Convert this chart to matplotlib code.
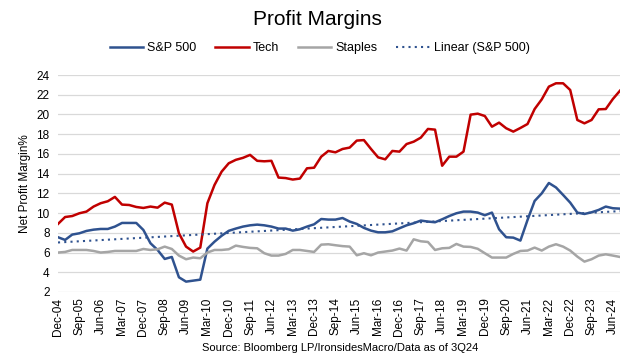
import numpy as np
import matplotlib.pyplot as plt

plt.rcParams['font.family'] = ['Liberation Sans', 'DejaVu Sans']

# quarterly net profit margins, Dec-04 .. Sep-24
sp500 = [7.55, 7.28, 7.82, 7.95, 8.19, 8.32, 8.39, 8.39, 8.63, 9.0,
         9.0, 9.0, 8.29, 6.94, 6.26, 5.35, 5.55, 3.49, 3.05, 3.15,
         3.25, 6.4, 7.1, 7.7, 8.2, 8.43, 8.63, 8.76, 8.83, 8.76,
         8.63, 8.43, 8.43, 8.22, 8.36, 8.63, 8.86, 9.4, 9.34, 9.34,
         9.5, 9.14, 8.9, 8.5, 8.22, 8.05, 8.05, 8.15, 8.46, 8.76,
         8.97, 9.24, 9.14, 9.07, 9.37, 9.7, 9.98, 10.15, 10.15, 10.05,
         9.78, 10.05, 8.36, 7.55, 7.51, 7.21, 9.3, 11.23, 12.0, 13.05,
         12.6, 11.84, 11.06, 10.05, 9.91, 10.08, 10.32, 10.66, 10.49, 10.45]

tech = [8.9, 9.6, 9.7, 9.98, 10.15, 10.66, 11.0, 11.2, 11.64, 10.86,
        10.82, 10.62, 10.52, 10.66, 10.55, 11.06, 10.86, 7.95, 6.6, 6.1,
        6.5, 11.0, 12.85, 14.2, 15.05, 15.4, 15.6, 15.9, 15.3, 15.25,
        15.3, 13.6, 13.55, 13.4, 13.5, 14.54, 14.6, 15.72, 16.3, 16.16,
        16.5, 16.64, 17.35, 17.4, 16.5, 15.65, 15.45, 16.3, 16.23, 17.0,
        17.24, 17.65, 18.53, 18.46, 14.8, 15.72, 15.72, 16.23, 19.98, 20.08,
        19.84, 18.76, 19.17, 18.6, 18.26, 18.63, 19.03, 20.55, 21.53, 22.82,
        23.16, 23.16, 22.48, 19.44, 19.1, 19.44, 20.52, 20.55, 21.57, 22.41]

staples = [6.0, 6.06, 6.26, 6.26, 6.26, 6.16, 6.0, 6.06, 6.16, 6.16,
           6.16, 6.16, 6.36, 6.26, 6.33, 6.6, 6.36, 5.69, 5.32, 5.49,
           5.42, 6.0, 6.26, 6.26, 6.33, 6.7, 6.57, 6.47, 6.43, 5.93,
           5.69, 5.69, 5.86, 6.26, 6.26, 6.16, 6.06, 6.8, 6.84, 6.74,
           6.65, 6.6, 5.72, 5.93, 5.72, 6.0, 6.1, 6.2, 6.4, 6.2,
           7.34, 7.14, 7.07, 6.26, 6.43, 6.47, 6.87, 6.6, 6.57, 6.38,
           5.93, 5.49, 5.49, 5.49, 5.86, 6.16, 6.2, 6.5, 6.2, 6.6,
           6.84, 6.6, 6.2, 5.59, 5.08, 5.32, 5.69, 5.82, 5.69, 5.55]

# excel linear trendline, start and end values
trend_ends = [7.02, 10.2]

tick_labels = ['Dec-04', 'Sep-05', 'Jun-06', 'Mar-07', 'Dec-07', 'Sep-08', 'Jun-09',
               'Mar-10', 'Dec-10', 'Sep-11', 'Jun-12', 'Mar-13', 'Dec-13', 'Sep-14',
               'Jun-15', 'Mar-16', 'Dec-16', 'Sep-17', 'Jun-18', 'Mar-19', 'Dec-19',
               'Sep-20', 'Jun-21', 'Mar-22', 'Dec-22', 'Sep-23', 'Jun-24']

blue = '#2F528F'
red = '#C00000'
grey = '#A5A5A5'

x = np.arange(len(sp500))

fig = plt.figure(figsize=(6.29, 3.58), dpi=100)
ax = fig.add_axes([0.0922, 0.1844, 0.8935, 0.6061])

ax.plot(x, sp500, color=blue, lw=1.8, label='S&P 500')
ax.plot(x, tech, color=red, lw=1.8, label='Tech')
ax.plot(x, staples, color=grey, lw=1.8, label='Staples')
ax.plot([x[0], x[-1]], trend_ends, color=blue, lw=1.5, ls=(0, (1, 2)),
        label='Linear (S&P 500)')

ax.set_xlim(0, len(x) - 1)
ax.set_ylim(2, 24)
ax.set_yticks(np.arange(2, 25, 2))
ax.set_xticks(np.arange(0, len(x), 3))
ax.set_xticklabels(tick_labels, rotation=90, fontsize=8.5)
ax.tick_params(axis='y', labelsize=8.5, length=0, pad=6)
ax.tick_params(axis='x', length=0, pad=4)

ax.grid(axis='y', color='#D9D9D9', lw=0.9)
ax.set_axisbelow(True)
for s in ax.spines.values():
    s.set_visible(False)

ax.set_ylabel('Net Profit Margin%', fontsize=8.5, labelpad=4)

fig.text(0.505, 0.945, 'Profit Margins', ha='center', va='center', fontsize=15)
fig.legend(loc='center', bbox_to_anchor=(0.508, 0.865), ncol=4, frameon=False,
           fontsize=9, handlelength=2.7, columnspacing=1.5, handletextpad=0.3)
fig.text(0.54, 0.027, 'Source: Bloomberg LP/IronsidesMacro/Data as of 3Q24',
         ha='center', va='center', fontsize=8)

fig.savefig('out.png', dpi=100)
